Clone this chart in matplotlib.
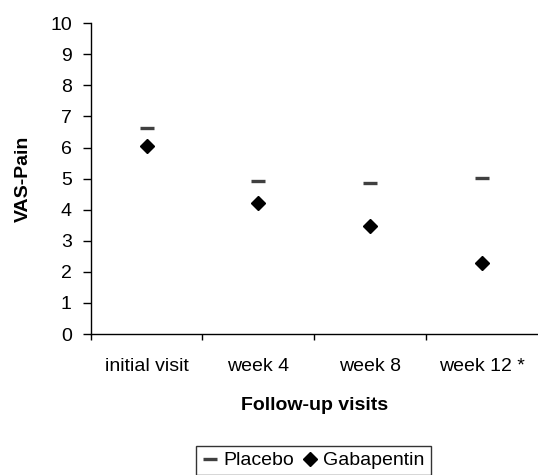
import matplotlib
matplotlib.use("Agg")
import matplotlib.pyplot as plt

plt.rcParams['font.family'] = ['Liberation Sans', 'DejaVu Sans']

visits = ["initial visit", "week 4", "week 8", "week 12 *"]
placebo = [6.63, 4.91, 4.85, 5.03]
gabapentin = [6.06, 4.22, 3.47, 2.28]

fig = plt.figure(figsize=(5.38, 4.75), dpi=100)
ax = fig.add_axes([0.1684, 0.2968, 0.8316, 0.6542])

x = list(range(len(visits)))
ax.plot(x, placebo, ls='none', marker='_', ms=9.5, mew=2.4, color='#404040', label='Placebo')
ax.plot(x, gabapentin, ls='none', marker='D', ms=7.5, color='black', label='Gabapentin')

ax.set_xlim(-0.5, 3.5)
ax.set_ylim(0, 10)
ax.set_yticks(range(0, 11))
ax.set_xticks(x)
ax.set_xticklabels(visits)
ax.set_xticks([-0.5, 0.5, 1.5, 2.5], minor=True)

for s in ['top', 'right']:
    ax.spines[s].set_visible(False)
for s in ['left', 'bottom']:
    ax.spines[s].set_linewidth(1.0)

ax.tick_params(axis='y', which='major', length=5.5, width=1, pad=8, labelsize=14)
ax.tick_params(axis='x', which='major', length=0, pad=17, labelsize=14)
ax.tick_params(axis='x', which='minor', length=4, width=1)

ax.set_xlabel("Follow-up visits", fontsize=14, fontweight='bold', labelpad=16)
ax.set_ylabel("VAS-Pain", fontsize=14, fontweight='bold', labelpad=13)

leg = fig.legend(loc='upper center', bbox_to_anchor=(313.5 / 538, 1 - 446 / 475), ncol=2,
                 fontsize=14, frameon=True, fancybox=False, edgecolor='black',
                 handlelength=0.8, handletextpad=0.3, columnspacing=0.4,
                 borderpad=0.3, borderaxespad=0)
leg.get_frame().set_linewidth(1.0)

fig.savefig("out.png", dpi=100)
